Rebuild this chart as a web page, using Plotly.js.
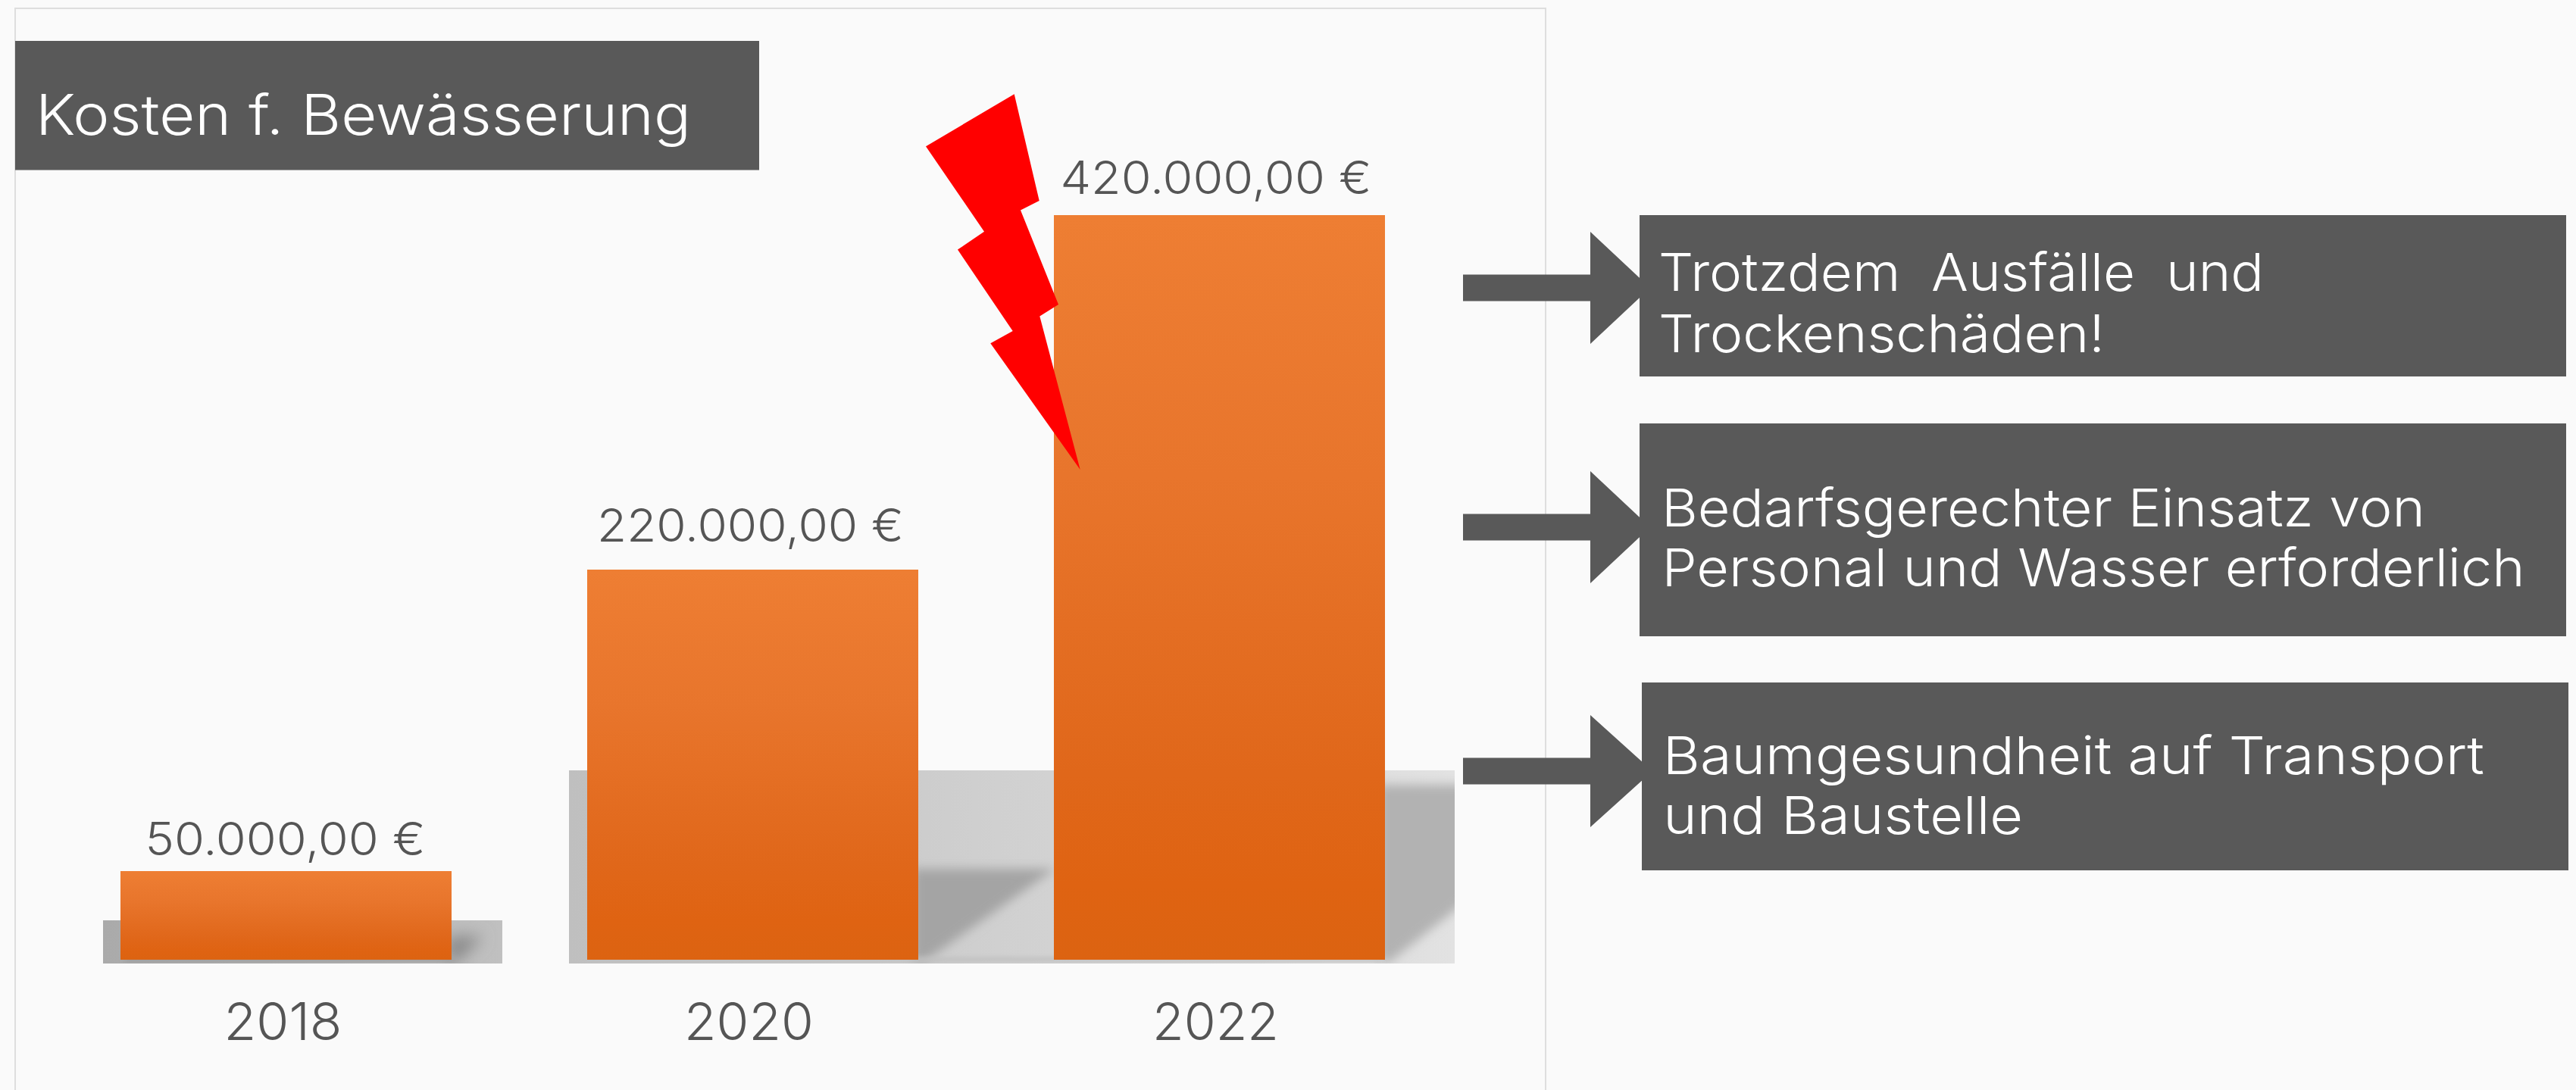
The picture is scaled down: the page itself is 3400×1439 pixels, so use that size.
<!DOCTYPE html>
<html><head><meta charset="utf-8">
<script src="https://cdn.plot.ly/plotly-3.0.1.min.js"></script>
<style>html,body{margin:0;padding:0;background:#fafafa;overflow:hidden}</style>
</head><body><div id="gd" style="width:3400px;height:1439px"></div>
<script>
const years = ['2018', '2020', '2022'];
const costs = [50000, 220000, 420000];
const valueLabels = ['50.000,00 €', '220.000,00 €', '420.000,00 €'];
const heading = 'Kosten f. Bewässerung';
const notes = [
  'Trotzdem  Ausfälle  und', 'Trockenschäden!',
  'Bedarfsgerechter Einsatz von', 'Personal und Wasser erforderlich',
  'Baumgesundheit auf Transport', 'und Baustelle'
];

const W = 3400, H = 1439;
const X = p => p / W, Y = p => 1 - p / H;
const FONT = 'Inter, "Open Sans", sans-serif';
const DARK = '#595959';

function poly(pts, fill, layer) {
  return {type:'path', xref:'paper', yref:'paper', layer:layer||'below', fillcolor:fill,
    line:{width:0}, path:'M' + pts.map(q => X(q[0]) + ',' + Y(q[1])).join('L') + 'Z'};
}
function box(x0, y0, x1, y1, fill) {
  return {type:'rect', xref:'paper', yref:'paper', layer:'below', fillcolor:fill, line:{width:0},
    x0:X(x0), x1:X(x1), y0:Y(y0), y1:Y(y1)};
}
function arrow(yc, tipX) {
  return poly([[1931,yc-17.5],[2099,yc-17.5],[2099,yc-74],[tipX,yc],[2099,yc+74],[2099,yc+17.5],[1931,yc+17.5]], DARK);
}
const shapes = [];
const fx = {};
function add(s, opts) { if (opts) fx[shapes.length] = opts; shapes.push(s); }

add({type:'rect', xref:'paper', yref:'paper', layer:'below', fillcolor:'rgba(0,0,0,0)',
  line:{color:'#dedede', width:2}, x0:X(20), x1:X(2040), y0:Y(11), y1:Y(1500)});
add(box(136,1215,663,1272,'#b4b4b4'), {fill:'gSmall'});
add(box(751,1017,1920,1272,'#d3d3d3'), {fill:'gBig'});
add(poly([[590,1236],[638,1236],[604,1270],[590,1270]],'#8a8a8a'), {blur:'b8', clip:'cSmall'});
add(box(165,1263,600,1271,'#a0a0a0'), {blur:'b4', clip:'cSmall'});
add(poly([[1205,1147],[1392,1147],[1219,1270],[1205,1270]],'#a4a4a4'), {blur:'b5', clip:'cBig'});
add(poly([[1820,1036],[1935,1036],[1935,1190],[1834,1270],[1820,1270]],'#b2b2b2'), {blur:'b5', clip:'cBig'});
add(box(780,1264,1822,1270,'#c0c0c0'), {blur:'b4', clip:'cBig'});
add(arrow(380,2178)); add(arrow(696,2178)); add(arrow(1018,2181));
add(box(2164,284,3387,497,DARK));
add(box(2164,559,3387,840,DARK));
add(box(2167,901,3390,1149,DARK));
add(box(20,54,1002,224.5,DARK));
add(poly([[1338.7,124.3],[1371.7,265],[1347,277.5],[1397,402.1],[1372.3,417.5],[1425.7,620],
  [1307.3,453.2],[1336.7,437.1],[1264,329.6],[1299,305.7],[1222,193.2]],'#ff0000','above'));

const annotations = [];
const textFit = {};
function label(text, left, right, cy, size, color) {
  textFit[annotations.length] = right - left;
  annotations.push({text, xref:'paper', yref:'paper', x:X((left+right)/2), y:Y(cy), xanchor:'center', yanchor:'middle',
    showarrow:false, font:{family:FONT, size, color, weight:300}});
}
label(heading, 47, 912, 151, 74, '#ffffff');
label(notes[0], 2189, 2988, 359, 69, '#ffffff');
label(notes[1], 2189, 2778, 440, 69, '#ffffff');
label(notes[2], 2193, 3201, 670, 69, '#ffffff');
label(notes[3], 2193, 3332, 749, 69, '#ffffff');
label(notes[4], 2195, 3279, 997, 69, '#ffffff');
label(notes[5], 2195, 2670, 1076, 69, '#ffffff');
const valueWidths = [370, 405, 411];
const valueShift = [-1, -3, -5];
const valueLift = [5, 21, 12];
years.forEach((yr, i) => {
  textFit[annotations.length] = valueWidths[i];
  annotations.push({text:valueLabels[i], x:i, y:costs[i], xref:'x', yref:'y', xanchor:'center', yanchor:'bottom',
    showarrow:false, yshift:valueLift[i], xshift:valueShift[i], font:{family:FONT, size:60, color:'#555555', weight:300}});
});

const traces = [{type:'bar', x:years, y:costs, marker:{color:'#e6722a', line:{width:0}}, hoverinfo:'x+y', cliponaxis:false}];
const layout = {
  width:W, height:H, margin:{l:0,r:0,t:0,b:0}, paper_bgcolor:'#fafafa', plot_bgcolor:'rgba(0,0,0,0)',
  showlegend:false, bargap:1-437/616, shapes, annotations,
  font:{family:FONT, color:'#555555'},
  xaxis:{type:'category', domain:[X(69.5),X(1917.5)], range:[-0.5,2.5], showgrid:false, zeroline:false, showline:false,
    ticks:'', ticklabelstandoff:36, tickfont:{family:FONT, size:69, color:'#555555', weight:300}},
  yaxis:{range:[0,420000], domain:[Y(1267),Y(284)], visible:false}
};

const gd = document.getElementById('gd');
Plotly.newPlot(gd, traces, layout, {displayModeBar:false, responsive:false}).then(() => {
  const svg = gd.querySelector('.main-svg');
  const NS = 'http://www.w3.org/2000/svg';
  const defs = document.createElementNS(NS,'defs');
  const grad = (id, x2, y2, stops) => `<linearGradient id="${id}" x1="0" y1="0" x2="${x2}" y2="${y2}">` +
    stops.map(s => `<stop offset="${s[0]}" stop-color="${s[1]}"/>`).join('') + '</linearGradient>';
  const blur = (id, d) => `<filter id="${id}" filterUnits="userSpaceOnUse" x="0" y="0" width="3400" height="1439"><feGaussianBlur stdDeviation="${d}"/></filter>`;
  const clip = (id, x, y, w, h) => `<clipPath id="${id}" clipPathUnits="userSpaceOnUse"><rect x="${x}" y="${y}" width="${w}" height="${h}"/></clipPath>`;
  defs.innerHTML =
    grad('gBar',0,1,[[0,'#ee7e33'],[0.35,'#e8752c'],[0.75,'#e0671a'],[0.9,'#df6312'],[1,'#dc6311']]) +
    grad('gSmall',1,0,[[0,'#aaaaaa'],[1,'#c0c0c0']]) +
    grad('gBig',1,0,[[0,'#bfbfbf'],[1,'#e2e2e2']]) +
    blur('b4',3) + blur('b5',7) + blur('b8',10) +
    clip('cSmall',136,1215,527,57) + clip('cBig',751,1017,1169,255);
  svg.appendChild(defs);
  gd.querySelectorAll('.bars .point path').forEach(p => { p.style.fill = 'url(#gBar)'; });
  Object.keys(fx).forEach(i => {
    const el = gd.querySelector(`.shapelayer path[data-index="${i}"]`);
    if (!el) return;
    const o = fx[i];
    if (o.fill) el.style.fill = `url(#${o.fill})`;
    if (o.blur) el.setAttribute('filter', `url(#${o.blur})`);
    if (o.clip) {
      const g = document.createElementNS(NS,'g');
      g.setAttribute('clip-path', `url(#${o.clip})`);
      el.parentNode.insertBefore(g, el);
      g.appendChild(el);
    }
  });
  gd.querySelectorAll('.annotation').forEach(a => {
    const i = a.getAttribute('data-index');
    const t = a.querySelector('text');
    if (t && textFit[i]) { t.setAttribute('textLength', textFit[i]); t.setAttribute('lengthAdjust','spacingAndGlyphs'); }
  });
  const tickW = [156, 171, 167];
  const tickDx = [-4, -5, -5];
  gd.querySelectorAll('.xtick text').forEach((t,i) => {
    t.setAttribute('textLength', tickW[i]); t.setAttribute('lengthAdjust','spacingAndGlyphs');
    t.setAttribute('x', parseFloat(t.getAttribute('x')) + tickDx[i]);
  });
});
</script></body></html>
